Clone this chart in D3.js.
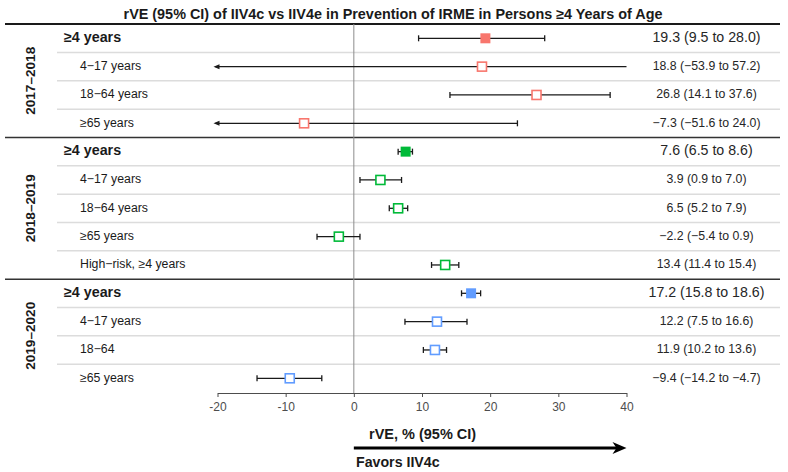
<!DOCTYPE html>
<html>
<head>
<meta charset="utf-8">
<script src="https://cdn.jsdelivr.net/npm/d3@7"></script>
<style>
  body { margin: 0; background: #fff; }
  text { font-family: Arial, "Liberation Sans", sans-serif; }
</style>
</head>
<body>
<div id="forest"></div>
<script>
// data
var seasons = ["2017–2018", "2018–2019", "2019–2020"];
var seasonColors = ["#F8766D", "#00BA38", "#619CFF"];
var rowSeason = [0, 0, 0, 0, 1, 1, 1, 1, 1, 2, 2, 2, 2];
var rowLabels = ["≥4 years", "4−17 years", "18−64 years", "≥65 years",
                 "≥4 years", "4−17 years", "18−64 years", "≥65 years", "High−risk, ≥4 years",
                 "≥4 years", "4−17 years", "18−64", "≥65 years"];
var overall = [true, false, false, false, true, false, false, false, false, true, false, false, false];
var estimate = [19.3, 18.8, 26.8, -7.3, 7.6, 3.9, 6.5, -2.2, 13.4, 17.2, 12.2, 11.9, -9.4];
var lower = [9.5, -53.9, 14.1, -51.6, 6.5, 0.9, 5.2, -5.4, 11.4, 15.8, 7.5, 10.2, -14.2];
var upper = [28.0, 57.2, 37.6, 24.0, 8.6, 7.0, 7.9, 0.9, 15.4, 18.6, 16.6, 13.6, -4.7];
var xTicks = [-20, -10, 0, 10, 20, 30, 40];

var width = 788, height = 472;
var fmt = d3.format(".1f");
function num(v) { return fmt(v).replace("-", "−"); }

var svg = d3.select("#forest")
  .append("svg")
    .attr("width", width)
    .attr("height", height);

var x = d3.scaleLinear().domain([-20, 40]).range([217.5, 626.5]);
var y = d3.scaleLinear().domain([0, 12]).range([38.3, 378.3]);

// title
svg.append("text")
  .attr("x", 393)
  .attr("y", 15)
  .attr("text-anchor", "middle")
  .attr("dominant-baseline", "middle")
  .style("font-size", "14.4px")
  .style("font-weight", "bold")
  .style("fill", "#1a1a1a")
  .text("rVE (95% CI) of IIV4c vs IIV4e in Prevention of IRME in Persons ≥4 Years of Age");

// row separators (thin inside a season, dark between seasons)
var seps = d3.range(0, 12);
svg.append("g")
  .selectAll("line")
  .data(seps)
  .enter()
  .append("line")
    .attr("x1", function (i) { return rowSeason[i] !== rowSeason[i + 1] ? 5 : 57; })
    .attr("x2", 780)
    .attr("y1", function (i) { return y(i + 0.5); })
    .attr("y2", function (i) { return y(i + 0.5); })
    .style("stroke", function (i) { return rowSeason[i] !== rowSeason[i + 1] ? "#333" : "#dcdcdc"; })
    .style("stroke-width", 1.5);

// top rule
svg.append("line")
  .attr("x1", 5).attr("x2", 780)
  .attr("y1", 24).attr("y2", 24)
  .style("stroke", "#1a1a1a")
  .style("stroke-width", 2);

// zero reference line
svg.append("line")
  .attr("x1", x(0)).attr("x2", x(0))
  .attr("y1", 24).attr("y2", 393)
  .style("stroke", "#8c8c8c")
  .style("stroke-width", 1);

// season labels
svg.append("g")
  .selectAll("text")
  .data(seasons)
  .enter()
  .append("text")
    .attr("transform", function (d, k) {
      var rows = d3.range(13).filter(function (i) { return rowSeason[i] === k; });
      var cy = (y(d3.min(rows)) + y(d3.max(rows))) / 2;
      return "translate(31," + cy + ") rotate(-90)";
    })
    .attr("text-anchor", "middle")
    .attr("dominant-baseline", "middle")
    .style("font-size", "13.6px")
    .style("font-weight", "bold")
    .style("fill", "#1a1a1a")
    .text(function (d) { return d; });

var rows = d3.range(0, rowLabels.length);

// row labels
svg.append("g")
  .selectAll("text")
  .data(rows)
  .enter()
  .append("text")
    .attr("x", function (i) { return overall[i] ? 64 : 80; })
    .attr("y", function (i) { return y(i); })
    .attr("dominant-baseline", "middle")
    .style("font-size", function (i) { return overall[i] ? "14.3px" : "12.3px"; })
    .style("font-weight", function (i) { return overall[i] ? "bold" : "normal"; })
    .style("fill", "#1a1a1a")
    .text(function (i) { return rowLabels[i]; });

// estimate text on the right
svg.append("g")
  .selectAll("text")
  .data(rows)
  .enter()
  .append("text")
    .attr("x", 706.5)
    .attr("y", function (i) { return y(i); })
    .attr("text-anchor", "middle")
    .attr("dominant-baseline", "middle")
    .style("font-size", function (i) { return overall[i] ? "14.2px" : "12.3px"; })
    .style("fill", "#262626")
    .text(function (i) { return num(estimate[i]) + " (" + num(lower[i]) + " to " + num(upper[i]) + ")"; });

// confidence intervals
var xmin = x.domain()[0], xmax = x.domain()[1];
var ci = svg.append("g").style("stroke", "#1a1a1a").style("stroke-width", 1.3);

ci.selectAll("line.ci")
  .data(rows)
  .enter()
  .append("line")
    .attr("class", "ci")
    .attr("x1", function (i) { return lower[i] < xmin ? x(xmin) - 2 : x(lower[i]); })
    .attr("x2", function (i) { return x(Math.min(upper[i], xmax)); })
    .attr("y1", function (i) { return y(i); })
    .attr("y2", function (i) { return y(i); });

// caps where the interval is inside the axis range
ci.selectAll("line.capL")
  .data(rows.filter(function (i) { return lower[i] >= xmin; }))
  .enter()
  .append("line")
    .attr("x1", function (i) { return x(lower[i]); })
    .attr("x2", function (i) { return x(lower[i]); })
    .attr("y1", function (i) { return y(i) - 3; })
    .attr("y2", function (i) { return y(i) + 3; });

ci.selectAll("line.capR")
  .data(rows.filter(function (i) { return upper[i] <= xmax; }))
  .enter()
  .append("line")
    .attr("x1", function (i) { return x(upper[i]); })
    .attr("x2", function (i) { return x(upper[i]); })
    .attr("y1", function (i) { return y(i) - 3; })
    .attr("y2", function (i) { return y(i) + 3; });

// arrowheads for intervals cut at the left edge
svg.append("g")
  .selectAll("path")
  .data(rows.filter(function (i) { return lower[i] < xmin; }))
  .enter()
  .append("path")
    .attr("d", function (i) {
      var tx = x(xmin) - 4, ty = y(i);
      return "M" + tx + "," + ty + "L" + (tx + 6) + "," + (ty - 2.5) + "L" + (tx + 6) + "," + (ty + 2.5) + "Z";
    })
    .style("fill", "#1a1a1a");

// point estimates
svg.append("g")
  .selectAll("rect")
  .data(rows)
  .enter()
  .append("rect")
    .attr("x", function (i) { return x(estimate[i]) - (overall[i] ? 5 : 4.5); })
    .attr("y", function (i) { return y(i) - (overall[i] ? 5 : 4.5); })
    .attr("width", function (i) { return overall[i] ? 10 : 9; })
    .attr("height", function (i) { return overall[i] ? 10 : 9; })
    .style("fill", function (i) { return overall[i] ? seasonColors[rowSeason[i]] : "#fff"; })
    .style("stroke", function (i) { return overall[i] ? "none" : seasonColors[rowSeason[i]]; })
    .style("stroke-width", 1.6);

// x axis
var axis = svg.append("g")
  .attr("transform", "translate(0,393)")
  .call(d3.axisBottom(x).tickValues(xTicks).tickSize(4).tickSizeOuter(0).tickPadding(5)
    .tickFormat(function (d) { return String(d); }));
axis.select(".domain").style("stroke", "#4d4d4d");
axis.selectAll(".tick line").style("stroke", "#4d4d4d");
axis.selectAll(".tick text")
  .style("font-size", "12px")
  .style("fill", "#4d4d4d")
  .style("font-family", "Arial, 'Liberation Sans', sans-serif");

// axis title and direction arrow
svg.append("text")
  .attr("x", 369)
  .attr("y", 435)
  .attr("dominant-baseline", "middle")
  .style("font-size", "14.5px")
  .style("font-weight", "bold")
  .style("fill", "#1a1a1a")
  .text("rVE, % (95% CI)");

svg.append("line")
  .attr("x1", x(0)).attr("x2", x(40) - 8)
  .attr("y1", 448).attr("y2", 448)
  .style("stroke", "#000")
  .style("stroke-width", 3);

svg.append("path")
  .attr("d", "M" + x(40) + ",448L" + (x(40) - 14) + ",442L" + (x(40) - 10) + ",448L" + (x(40) - 14) + ",454Z")
  .style("fill", "#000");

svg.append("text")
  .attr("x", 356)
  .attr("y", 463)
  .attr("dominant-baseline", "middle")
  .style("font-size", "14.2px")
  .style("font-weight", "bold")
  .style("fill", "#1a1a1a")
  .text("Favors IIV4c");
</script>
</body>
</html>
